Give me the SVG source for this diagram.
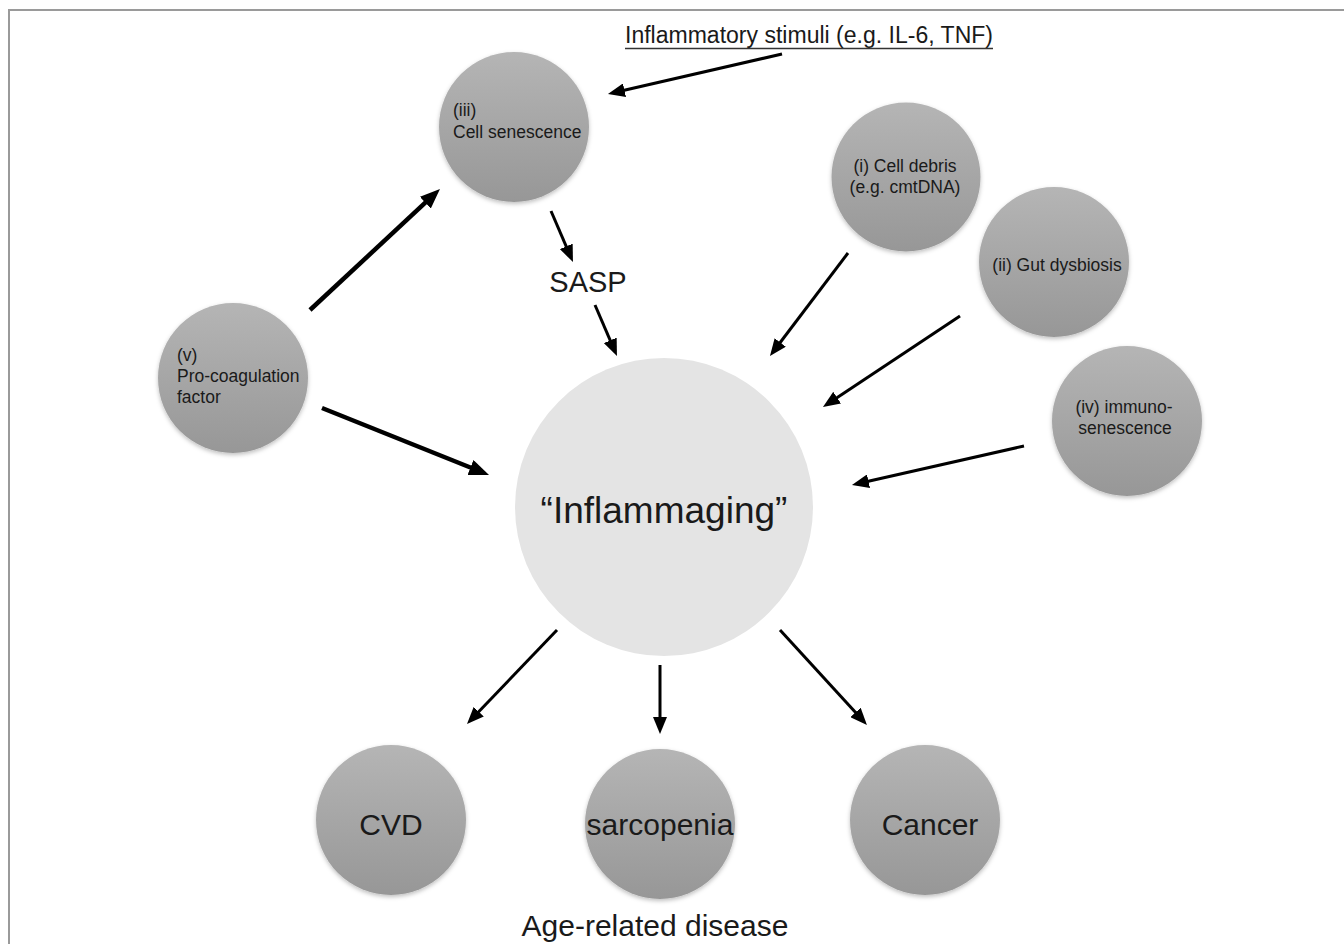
<svg xmlns="http://www.w3.org/2000/svg" width="1344" height="944" viewBox="0 0 1344 944">
<style>
.t{font-family:"Liberation Sans",Arial,sans-serif;fill:#1a1a1a}
.s{font-size:17.5px}
.big{font-size:30px}
.node{fill:url(#g);filter:url(#sh)}
.ln{stroke:#000;stroke-width:3;fill:none;marker-end:url(#ah)}
.lt{stroke:#000;stroke-width:4.5;fill:none;marker-end:url(#ahb)}
</style>
<defs>
<linearGradient id="g" x1="0" y1="0" x2="0" y2="1">
<stop offset="0" stop-color="#b5b5b5"/>
<stop offset="1" stop-color="#979797"/>
</linearGradient>
<filter id="sh" x="-20%" y="-20%" width="140%" height="140%">
<feDropShadow dx="0" dy="2" stdDeviation="2" flood-color="#000" flood-opacity="0.25"/>
</filter>
<marker id="ah" markerUnits="userSpaceOnUse" viewBox="0 0 17 14" refX="7" refY="7" markerWidth="17" markerHeight="14" orient="auto">
<path d="M0,0 L17,7 L0,14 z" fill="#000"/>
</marker>
<marker id="ahb" markerUnits="userSpaceOnUse" viewBox="0 0 20 16" refX="8" refY="8" markerWidth="20" markerHeight="16" orient="auto">
<path d="M0,0 L20,8 L0,16 z" fill="#000"/>
</marker>
</defs>
<rect width="1344" height="944" fill="#fff"/>
<path d="M9,944 V10 H1344" fill="none" stroke="#9a9a9a" stroke-width="2"/>

<g id="connectors">
<line class="ln" x1="782" y1="54" x2="617.7" y2="91.8"/>
<line class="lt" x1="310" y1="310" x2="431.2" y2="197.2"/>
<line class="lt" x1="322" y1="408" x2="477.9" y2="470.5"/>
<line class="ln" x1="551" y1="211" x2="569" y2="252.8"/>
<line class="ln" x1="595" y1="305" x2="613" y2="346.8"/>
<line class="ln" x1="848" y1="253" x2="776" y2="348"/>
<line class="ln" x1="960" y1="316" x2="831.3" y2="401.5"/>
<line class="ln" x1="1024" y1="446" x2="861.7" y2="482.8"/>
<line class="ln" x1="557" y1="630" x2="473.9" y2="716.8"/>
<line class="ln" x1="660" y1="665" x2="660" y2="724"/>
<line class="ln" x1="780" y1="630" x2="860.2" y2="717.6"/>
</g>

<g id="stimuli">
<text class="t" x="625" y="43" font-size="23" textLength="368" lengthAdjust="spacingAndGlyphs">Inflammatory stimuli (e.g. IL-6, TNF)</text>
<line x1="625" y1="48.5" x2="993" y2="48.5" stroke="#333" stroke-width="1.5"/>
</g>

<g id="sasp">
<text class="t" x="588" y="292" font-size="29" text-anchor="middle">SASP</text>
</g>

<g id="cell-senescence">
<circle class="node" cx="514" cy="127" r="75"/>
<text class="t s" x="453" y="116">(iii)</text>
<text class="t s" x="453" y="138">Cell senescence</text>
</g>

<g id="cell-debris">
<circle class="node" cx="906" cy="177" r="74.5"/>
<text class="t s" x="905" y="172" text-anchor="middle">(i) Cell debris</text>
<text class="t s" x="905" y="193" text-anchor="middle">(e.g. cmtDNA)</text>
</g>

<g id="gut-dysbiosis">
<circle class="node" cx="1054" cy="262" r="75"/>
<text class="t s" x="1057" y="271" text-anchor="middle">(ii) Gut dysbiosis</text>
</g>

<g id="immunosenescence">
<circle class="node" cx="1127" cy="421" r="75"/>
<text class="t s" x="1124" y="413" text-anchor="middle">(iv) immuno-</text>
<text class="t s" x="1125" y="434" text-anchor="middle">senescence</text>
</g>

<g id="pro-coagulation">
<circle class="node" cx="233" cy="378" r="75"/>
<text class="t s" x="177" y="361">(v)</text>
<text class="t s" x="177" y="382">Pro-coagulation</text>
<text class="t s" x="177" y="403">factor</text>
</g>

<g id="inflammaging">
<circle cx="664" cy="507" r="149" fill="#e4e4e4"/>
<text class="t" x="664" y="523" font-size="37" text-anchor="middle">“Inflammaging”</text>
</g>

<g id="cvd">
<circle class="node" cx="391" cy="820" r="75"/>
<text class="t big" x="391" y="835" text-anchor="middle">CVD</text>
</g>

<g id="sarcopenia">
<circle class="node" cx="660" cy="824" r="75"/>
<text class="t big" x="660" y="835" text-anchor="middle">sarcopenia</text>
</g>

<g id="cancer">
<circle class="node" cx="925" cy="820" r="75"/>
<text class="t big" x="930" y="835" text-anchor="middle">Cancer</text>
</g>

<g id="age-related">
<text class="t big" x="655" y="936" text-anchor="middle">Age-related disease</text>
</g>
</svg>
